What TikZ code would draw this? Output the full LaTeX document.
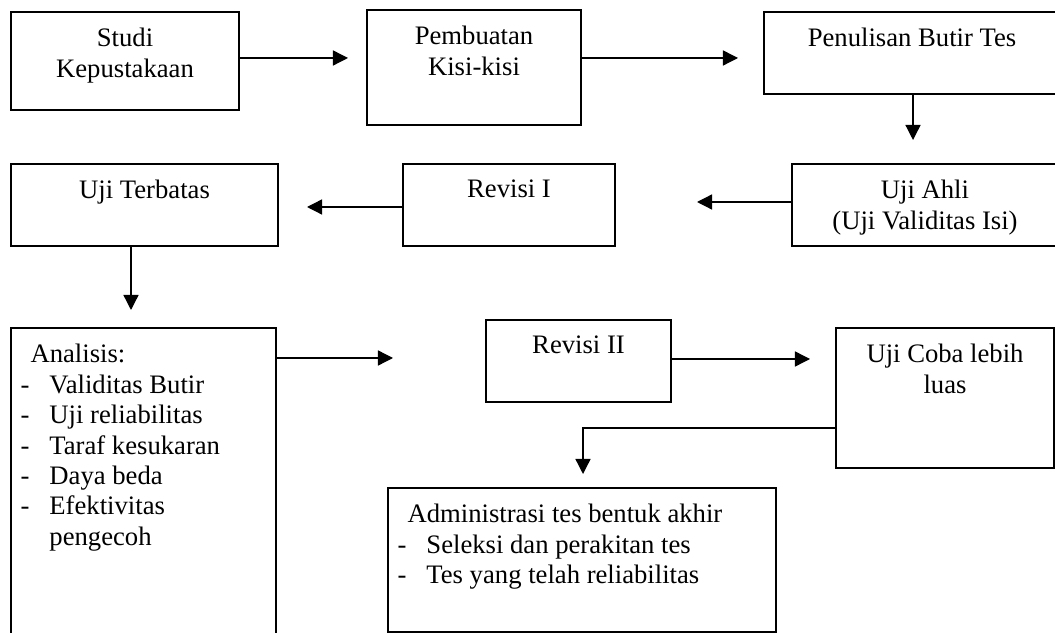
\documentclass[tikz,border=0pt]{standalone}
\usepackage{fontspec}
\setmainfont{Liberation Serif}
\usetikzlibrary{positioning,arrows.meta}

\tikzset{
  box/.style={draw, line width=0.8pt, inner sep=0pt},
  txt/.style={anchor=north, align=center, inner sep=0pt},
  lst/.style={anchor=north west, align=left, inner sep=0pt},
  arr/.style={->, line width=0.6pt}
}
\newcommand{\butir}[1]{\makebox[13pt][l]{-}#1}

\begin{document}
\begin{tikzpicture}[x=0.45pt, y=-0.45pt, >={Triangle[length=6.8pt,width=6.8pt]}, every node/.style={font=\fontsize{12pt}{13.7pt}\selectfont}]
\useasboundingbox (0,0) rectangle (1055,633);
\clip (0,0) rectangle (1055,633);

% kotak
\node[box, minimum width=102.6pt, minimum height=44.1pt] (studi) at (125,61) {};
\node[box, minimum width=96.3pt, minimum height=51.75pt] (kisi) at (474,67.5) {};
\node[box, minimum width=133.2pt, minimum height=36.9pt] (tulis) at (912,53) {};
\node[box, minimum width=119.7pt, minimum height=36.9pt] (ahli) at (925,205) {};
\node[box, minimum width=95.4pt, minimum height=36.9pt] (revisi1) at (509,205) {};
\node[box, minimum width=120.15pt, minimum height=36.9pt] (terbatas) at (144.5,205) {};
\node[box, minimum width=119.25pt, minimum height=158.4pt] (analisis) at (143.5,504) {};
\node[box, minimum width=83.25pt, minimum height=36.9pt] (revisi2) at (578.5,361) {};
\node[box, minimum width=98.1pt, minimum height=63pt] (ujicoba) at (945,398) {};
\node[box, minimum width=174.6pt, minimum height=64.8pt] (admin) at (582,560) {};

% teks
\node[txt, below=7.5pt of studi.north] {Studi\\Kepustakaan};
\node[txt, below=7.5pt of kisi.north] {Pembuatan\\Kisi-kisi};
\node[txt, below=7.5pt of tulis.north] {Penulisan Butir Tes};
\node[txt, below=7.5pt of ahli.north] {Uji Ahli\\(Uji Validitas Isi)};
\node[txt, below=7.5pt of revisi1.north] {Revisi I};
\node[txt, below=7.5pt of terbatas.north] {Uji Terbatas};
\node[txt, below=7.5pt of revisi2.north] {Revisi II};
\node[txt, below=7.5pt of ujicoba.north] {Uji Coba lebih\\luas};
\node[lst, below right=7.5pt and 4.5pt of analisis.north west] {\hspace*{4.5pt}Analisis:\\
  \butir{Validitas Butir}\\\butir{Uji reliabilitas}\\\butir{Taraf kesukaran}\\
  \butir{Daya beda}\\\butir{Efektivitas}\\\hspace*{13pt}pengecoh};
\node[lst, below right=7.5pt and 4.5pt of admin.north west] {\hspace*{4.5pt}Administrasi tes bentuk akhir\\
  \butir{Seleksi dan perakitan tes}\\\butir{Tes yang telah reliabilitas}};

% ujung panah
\coordinate (p1) at (348,58);
\coordinate (p2) at (738,58);
\coordinate (p3) at (913,140);
\coordinate (p4) at (697,202);
\coordinate (p5) at (307,207);
\coordinate (p6) at (131,310);
\coordinate (p7) at (393,358);
\coordinate (p8) at (810,359);
\coordinate (p9) at (583,474);

\draw[arr] (studi.east |- p1) -- (p1);
\draw[arr] (kisi.east |- p2) -- (p2);
\draw[arr] (tulis.south -| p3) -- (p3);
\draw[arr] (ahli.west |- p4) -- (p4);
\draw[arr] (revisi1.west |- p5) -- (p5);
\draw[arr] (terbatas.south -| p6) -- (p6);
\draw[arr] (analisis.east |- p7) -- (p7);
\draw[arr] (revisi2.east |- p8) -- (p8);
\draw[arr] ([yshift=-13.5pt]ujicoba.west) -| (p9);
\end{tikzpicture}
\end{document}
